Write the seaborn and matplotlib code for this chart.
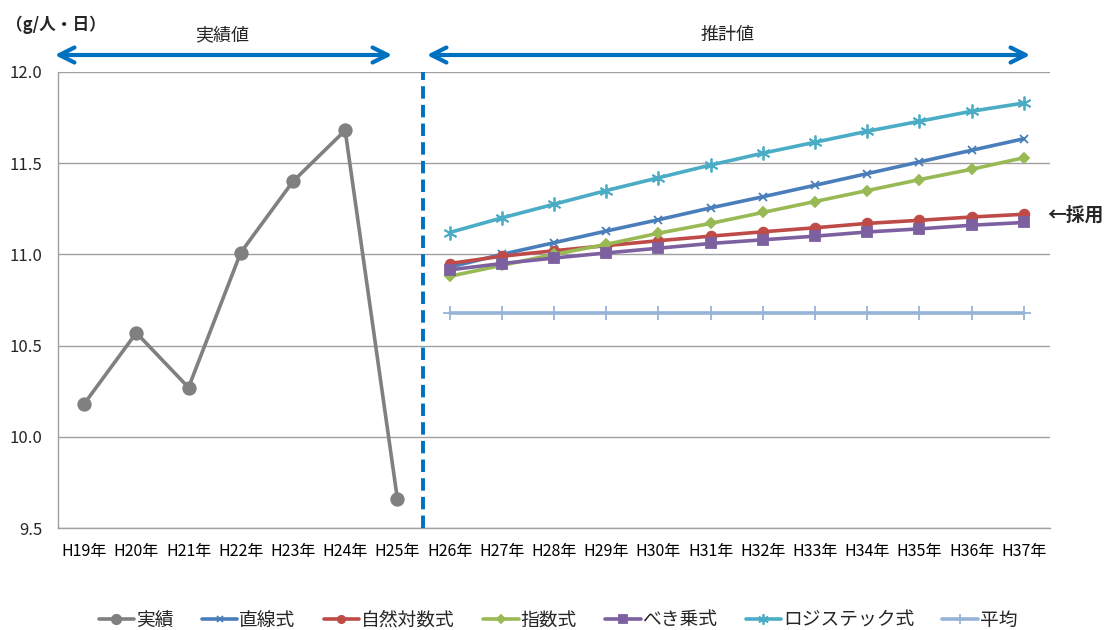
import numpy as np
import pandas as pd
import matplotlib
matplotlib.use("Agg")
import matplotlib.pyplot as plt
import seaborn as sns

# Category labels (fiscal years)
years = ["H19年", "H20年", "H21年", "H22年", "H23年", "H24年", "H25年",
         "H26年", "H27年", "H28年", "H29年", "H30年", "H31年", "H32年",
         "H33年", "H34年", "H35年", "H36年", "H37年"]

# Actual values H19–H25 (g/人・日)
actual = [10.18, 10.57, 10.27, 11.01, 11.40, 11.68, 9.66]

# Projections H26–H37
linear = [10.93, 11.00, 11.064, 11.128, 11.19, 11.255, 11.316, 11.379,
          11.443, 11.507, 11.571, 11.634]
log_nat = [10.95, 10.99, 11.02, 11.048, 11.075, 11.10, 11.124, 11.146,
           11.17, 11.187, 11.205, 11.22]
expo = [10.88, 10.94, 11.00, 11.055, 11.116, 11.17, 11.23, 11.29,
        11.35, 11.41, 11.467, 11.53]
power = [10.915, 10.95, 10.98, 11.008, 11.034, 11.06, 11.08, 11.10,
         11.123, 11.14, 11.16, 11.175]
logistic = [11.12, 11.20, 11.275, 11.35, 11.42, 11.49, 11.555, 11.615,
            11.675, 11.73, 11.785, 11.83]
average = [10.68] * 12

series_names = ["実績", "直線式", "自然対数式", "指数式", "べき乗式", "ロジステック式", "平均"]

sns.set_theme(style="white")
plt.rcParams['font.family'] = ['Noto Sans CJK JP', 'DejaVu Sans']

fig = plt.figure(figsize=(11.16, 6.3), dpi=100)
ax = fig.add_axes([58 / 1116, 1 - 528 / 630, (1050 - 58) / 1116, (528 - 72) / 630])

x_act = list(range(0, 7))
x_fc = list(range(7, 19))

frames = [pd.DataFrame({"x": x_act, "y": actual, "系列": series_names[0]})]
for name, vals in zip(series_names[1:], [linear, log_nat, expo, power, logistic, average]):
    frames.append(pd.DataFrame({"x": x_fc, "y": vals, "系列": name}))
df = pd.concat(frames, ignore_index=True)

palette = {
    "実績": "#808080",
    "直線式": "#4A7EBB",
    "自然対数式": "#BE4B48",
    "指数式": "#98B954",
    "べき乗式": "#7D60A0",
    "ロジステック式": "#4BACC6",
    "平均": "#95B3D7",
}
markers = {
    "実績": "o",
    "直線式": "x",
    "自然対数式": "o",
    "指数式": "D",
    "べき乗式": "s",
    "ロジステック式": (6, 2, 0),
    "平均": "+",
}
msizes = {
    "実績": 9, "直線式": 6, "自然対数式": 7, "指数式": 5,
    "べき乗式": 7, "ロジステック式": 10, "平均": 10,
}

for name in series_names:
    sub = df[df["系列"] == name]
    sns.lineplot(data=sub, x="x", y="y", ax=ax, color=palette[name],
                 marker=markers[name], markersize=msizes[name],
                 markeredgecolor=palette[name], markeredgewidth=1.3,
                 linewidth=2.6, label=name, legend=False)

ax.set_xlim(-0.5, 18.5)
ax.set_ylim(9.5, 12.0)
ax.set_yticks(np.arange(9.5, 12.01, 0.5))
ax.set_yticklabels([f"{v:.1f}" for v in np.arange(9.5, 12.01, 0.5)], fontsize=12)
ax.set_xticks(range(len(years)))
ax.set_xticklabels(years, fontsize=11.5)
ax.set_xticks(np.arange(-0.5, 18.6, 1), minor=True)
ax.tick_params(axis="x", which="major", length=0, pad=11, colors="#000000")
ax.tick_params(axis="x", which="minor", length=5, width=1, color="#A0A0A0", direction="out")
ax.tick_params(axis="y", length=5, width=1, color="#A0A0A0", direction="out", pad=6)
ax.set_xlabel("")
ax.set_ylabel("")

ax.grid(axis="y", color="#A0A0A0", linewidth=1)
ax.grid(axis="x", visible=False)
for s in ["top", "right"]:
    ax.spines[s].set_visible(False)
for s in ["left", "bottom"]:
    ax.spines[s].set_color("#A0A0A0")
    ax.spines[s].set_linewidth(1)

# Boundary between actual and projected values
ax.axvline(6.5, color="#0070C0", linewidth=2.8, linestyle=(0, (3.2, 1.6)), zorder=5)

# Range arrows above the plot
arrow_kw = dict(arrowstyle="<->,head_length=0.9,head_width=0.45", color="#0070C0", lw=3)
ax.annotate("", xy=(52 / 1116, 1 - 55 / 630), xytext=(395 / 1116, 1 - 55 / 630),
            xycoords="figure fraction", textcoords="figure fraction", arrowprops=arrow_kw,
            annotation_clip=False)
ax.annotate("", xy=(424 / 1116, 1 - 55 / 630), xytext=(1033 / 1116, 1 - 55 / 630),
            xycoords="figure fraction", textcoords="figure fraction", arrowprops=arrow_kw,
            annotation_clip=False)
fig.text(222 / 1116, 1 - 35 / 630, "実績値", ha="center", va="center", fontsize=13)
fig.text(728 / 1116, 1 - 35 / 630, "推計値", ha="center", va="center", fontsize=13)
fig.text(6 / 1116, 1 - 25 / 630, "（g/人・日）", ha="left", va="center", fontsize=12,
         fontweight="bold")
fig.text(1047 / 1116, 1 - 215 / 630, "←採用", ha="left", va="center", fontsize=13.5,
         fontweight="bold")

handles, labels = ax.get_legend_handles_labels()
fig.legend(handles, labels, loc="center", bbox_to_anchor=(0.5, 1 - 620 / 630), ncol=7,
           frameon=False, fontsize=13.5, handlelength=1.9, handletextpad=0.1,
           columnspacing=1.5, markerscale=0.75)

fig.savefig("out.png", dpi=100)
